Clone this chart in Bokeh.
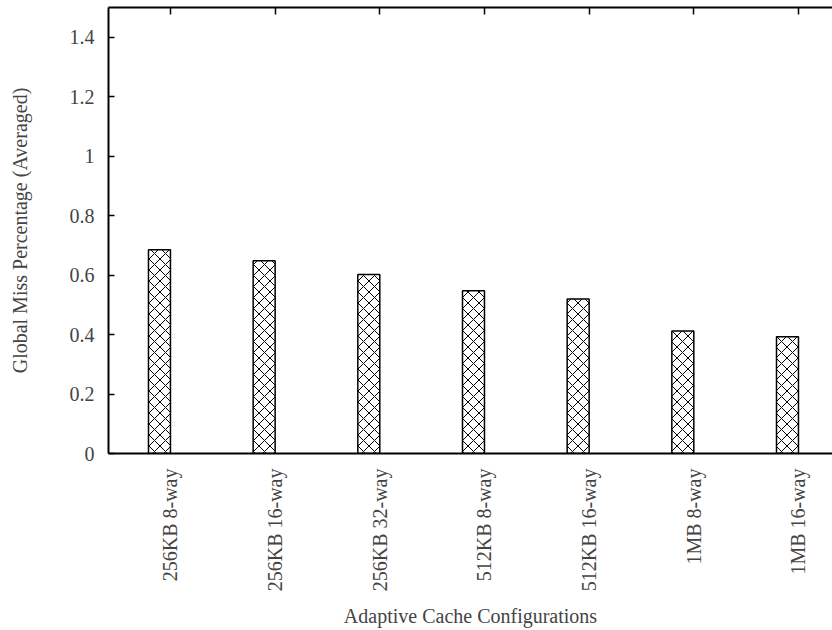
from bokeh.plotting import figure
from bokeh.models import Range1d, FixedTicker, LinearAxis, ColumnDataSource
from bokeh.transform import dodge
from bokeh.embed import file_html
from bokeh.resources import INLINE
import math

categories = ["256KB 8-way", "256KB 16-way", "256KB 32-way", "512KB 8-way",
              "512KB 16-way", "1MB 8-way", "1MB 16-way"]
miss_pct = [0.685, 0.648, 0.602, 0.547, 0.520, 0.412, 0.393]
y_ticks = [0, 0.2, 0.4, 0.6, 0.8, 1.0, 1.2, 1.4]
y_tick_labels = ["0", "0.2", "0.4", "0.6", "0.8", "1", "1.2", "1.4"]

FONT = "Liberation Serif"

idx = list(range(len(categories)))
src = ColumnDataSource(data=dict(x=idx, y=miss_pct, name=categories))

p = figure(width=832, height=630, output_backend="svg", toolbar_location=None,
           x_range=Range1d(-0.592, 6.325), y_range=Range1d(0, 1.5),
           min_border_left=108, min_border_right=0, min_border_top=7,
           min_border_bottom=177, x_axis_location="below")
p.outline_line_color = None
p.xgrid.visible = False
p.ygrid.visible = False

p.vbar(x=dodge("x", -0.105, range=p.x_range), top="y", width=0.21, bottom=0,
       source=src, fill_color="white", line_color="black", line_width=1.5,
       hatch_pattern="diagonal_cross", hatch_color="black", hatch_scale=11,
       hatch_weight=1)

# bottom axis
xa = p.xaxis[0]
xa.ticker = FixedTicker(ticks=idx)
xa.major_label_overrides = {i: c for i, c in zip(idx, categories)}
xa.major_label_orientation = math.pi / 2
xa.major_tick_in = 0
xa.major_tick_out = 0
xa.minor_tick_line_color = None
xa.major_label_standoff = 15
xa.major_label_text_font = FONT
xa.major_label_text_font_size = "20px"
xa.axis_label = "Adaptive Cache Configurations"
xa.axis_label_text_font = FONT
xa.axis_label_text_font_size = "20px"
xa.axis_label_text_font_style = "normal"
xa.axis_label_standoff = 11
xa.axis_line_width = 2
xa.axis_line_color = "black"

# left axis
ya = p.yaxis[0]
ya.ticker = FixedTicker(ticks=y_ticks)
ya.major_label_overrides = {t: l for t, l in zip(y_ticks, y_tick_labels)}
ya.major_tick_in = 6
ya.major_tick_out = 0
ya.minor_tick_line_color = None
ya.major_label_standoff = 14
ya.major_label_text_font = FONT
ya.major_label_text_font_size = "20px"
ya.axis_label = "Global Miss Percentage (Averaged)"
ya.axis_label_text_font = FONT
ya.axis_label_text_font_size = "20px"
ya.axis_label_text_font_style = "normal"
ya.axis_label_standoff = 36
ya.axis_line_width = 2
ya.axis_line_color = "black"
ya.major_tick_line_width = 1.5

# top border with mirrored ticks (no labels)
top = LinearAxis(ticker=FixedTicker(ticks=idx))
top.major_label_overrides = {i: "" for i in idx}
top.major_label_text_font_size = "0px"
top.major_label_standoff = 0
top.major_tick_in = 7
top.major_tick_out = 0
top.major_tick_line_width = 1.5
top.minor_tick_line_color = None
top.axis_line_width = 2
top.axis_line_color = "black"
p.add_layout(top, "above")

open("out.html", "w").write(file_html(p, INLINE))
